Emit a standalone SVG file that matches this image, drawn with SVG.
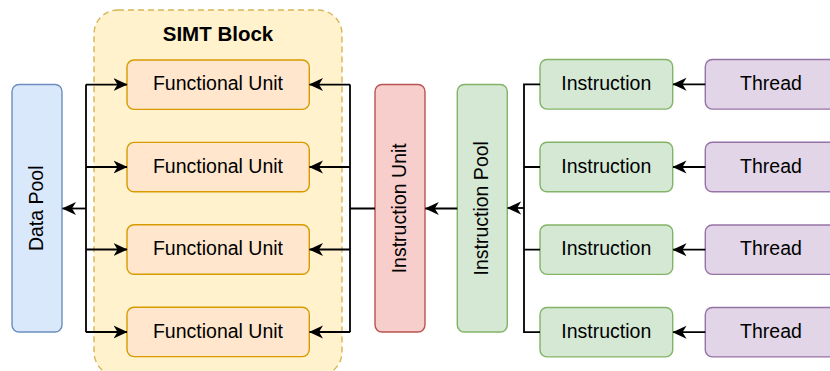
<svg xmlns="http://www.w3.org/2000/svg" width="830" height="371" viewBox="0 0 830 371">
<defs>
<marker id="arr" viewBox="0 0 14 14" markerWidth="14" markerHeight="14" refX="13.5" refY="7" orient="auto" markerUnits="userSpaceOnUse">
<path d="M0,0.5 L14,7 L0,13.5 L4,7 Z" fill="#000"/>
</marker>
</defs>
<style>
text{font-family:"Liberation Sans",Arial,sans-serif;font-size:19.5px;fill:#000;text-anchor:middle}
.title{font-weight:bold;font-size:20.5px}
.blue{fill:#dae8fc;stroke:#6c8ebf;stroke-width:1.4}
.simt{fill:#fff2cc;stroke:#d6b656;stroke-width:1.4;stroke-dasharray:6 4}
.fu{fill:#ffe6cc;stroke:#d79b00;stroke-width:1.4}
.red{fill:#f8cecc;stroke:#b85450;stroke-width:1.4}
.green{fill:#d5e8d4;stroke:#82b366;stroke-width:1.4}
.purple{fill:#e1d5e7;stroke:#9673a6;stroke-width:1.4}
.edge{fill:none;stroke:#000;stroke-width:1.8}
.ar{marker-end:url(#arr)}
</style>
<g id="simt-block">
<rect class="simt" x="94" y="10" width="248" height="366" rx="24"/>
<text class="title" x="218" y="40.5">SIMT Block</text>
</g>
<g id="data-pool">
<rect class="blue" x="12" y="84.5" width="50" height="247.5" rx="7"/>
<text transform="translate(37,208.3) rotate(-90)" y="6">Data Pool</text>
</g>
<g id="fu1"><rect class="fu" x="127" y="60" width="182.3" height="49.4" rx="7"/><text x="218" y="90.3">Functional Unit</text></g>
<g id="fu2"><rect class="fu" x="127" y="142.4" width="182.3" height="49.4" rx="7"/><text x="218" y="172.7">Functional Unit</text></g>
<g id="fu3"><rect class="fu" x="127" y="224.8" width="182.3" height="49.4" rx="7"/><text x="218" y="255.1">Functional Unit</text></g>
<g id="fu4"><rect class="fu" x="127" y="307.2" width="182.3" height="49.4" rx="7"/><text x="218" y="337.5">Functional Unit</text></g>
<g id="instruction-unit">
<rect class="red" x="375" y="84.5" width="50" height="247.5" rx="7"/>
<text transform="translate(400,208.3) rotate(-90)" y="6">Instruction Unit</text>
</g>
<g id="instruction-pool">
<rect class="green" x="457.3" y="84.5" width="50" height="247.5" rx="7"/>
<text transform="translate(482.3,208.3) rotate(-90)" y="6">Instruction Pool</text>
</g>
<g id="ins1"><rect class="green" x="540" y="59.5" width="132.7" height="49.6" rx="7"/><text x="606.3" y="90.3">Instruction</text></g>
<g id="ins2"><rect class="green" x="540" y="142.3" width="132.7" height="49.4" rx="7"/><text x="606.3" y="172.7">Instruction</text></g>
<g id="ins3"><rect class="green" x="540" y="225" width="132.7" height="49.4" rx="7"/><text x="606.3" y="255.1">Instruction</text></g>
<g id="ins4"><rect class="green" x="540" y="307.5" width="132.7" height="49.4" rx="7"/><text x="606.3" y="337.5">Instruction</text></g>
<g id="th1"><rect class="purple" x="705.3" y="59.5" width="132.7" height="49.6" rx="7"/><text x="771" y="90.3">Thread</text></g>
<g id="th2"><rect class="purple" x="705.3" y="142.3" width="132.7" height="49.4" rx="7"/><text x="771" y="172.7">Thread</text></g>
<g id="th3"><rect class="purple" x="705.3" y="225" width="132.7" height="49.4" rx="7"/><text x="771" y="255.1">Thread</text></g>
<g id="th4"><rect class="purple" x="705.3" y="307.5" width="132.7" height="49.4" rx="7"/><text x="771" y="337.5">Thread</text></g>
<g id="connectors">
<path class="edge" d="M86,84.5 V332.2"/>
<path class="edge ar" d="M86,208.5 H62.5"/>
<path class="edge ar" d="M86,84.6 H127"/>
<path class="edge ar" d="M86,167 H127"/>
<path class="edge ar" d="M86,249.5 H127"/>
<path class="edge ar" d="M86,332 H127"/>
<path class="edge" d="M375,208.5 H350 M350,84.5 V332.2"/>
<path class="edge ar" d="M350,84.6 H309.5"/>
<path class="edge ar" d="M350,167 H309.5"/>
<path class="edge ar" d="M350,249.5 H309.5"/>
<path class="edge ar" d="M350,332 H309.5"/>
<path class="edge ar" d="M457.3,208.5 H425.3"/>
<path class="edge" d="M540,84.3 H524 V332.2 H540 M524,167 H540 M524,249.7 H540"/>
<path class="edge ar" d="M524,208 H507.6"/>
<path class="edge ar" d="M705.3,84.3 H673"/>
<path class="edge ar" d="M705.3,167 H673"/>
<path class="edge ar" d="M705.3,249.7 H673"/>
<path class="edge ar" d="M705.3,332.2 H673"/>
</g>
</svg>
